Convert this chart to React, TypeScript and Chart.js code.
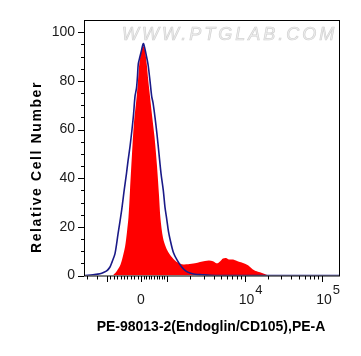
import React, { useEffect, useRef } from "react";
import { Chart, registerables } from "chart.js";

Chart.register(...registerables);

// Histogram of the stained sample (red, filled): channel position, relative count
const sampleX = [0, 28, 30, 33, 36, 38, 41, 43, 44.5, 46, 48, 50, 52.7, 54, 55.3, 57, 59.3, 61, 62.7, 64.3, 66, 68, 70.5, 73, 75, 76.5, 79, 82, 84.5, 88, 91, 94, 98, 104, 111, 116, 121, 125, 129, 133, 136, 139, 142, 145, 149, 153, 157, 161, 164, 168, 172, 176, 180, 185, 256];
const sampleY = [0, 0, 0.5, 2, 4, 6.5, 11.7, 18, 24, 35, 50, 63, 73.6, 80, 87, 91.5, 94.2, 92.5, 87, 80, 73.6, 66, 57, 45, 33, 23.3, 15.5, 11.5, 9.5, 7.5, 6.2, 5.3, 4.6, 4.6, 5.0, 5.5, 6.0, 6.2, 5.9, 5.0, 5.8, 7.0, 7.2, 6.6, 6.6, 6.0, 5.4, 4.8, 4.2, 2.8, 1.8, 1.3, 0.7, 0, 0];

// Histogram of the isotype control (blue outline)
const controlX = [0, 4, 9, 16, 20, 23, 26, 28, 31, 34, 37.7, 40.3, 42.5, 44, 46, 48, 49.5, 51, 52.5, 53.5, 54.3, 56, 57.5, 59.3, 61, 62.5, 63.5, 64.3, 66, 67.7, 69, 71, 73, 75, 77, 79.3, 81, 82.7, 84.5, 86, 89.3, 93.3, 97.7, 102, 106, 111, 118, 126, 136, 256];
const controlY = [0, 0.1, 0.3, 0.7, 1.3, 2, 3.5, 5.5, 9, 17, 27, 35.4, 42, 47, 53, 60, 66, 73.6, 77, 82, 87, 90, 92.5, 95.3, 93, 90, 88, 86, 80, 73.6, 71, 65, 58, 50, 42, 35, 28, 23.3, 18, 15, 9.6, 6.2, 3.5, 1.8, 1, 0.5, 0.3, 0.1, 0, 0];

// Axis ticks
const yMajorTicks = [0, 20, 40, 60, 80, 100];
const yMinorTicks = [5, 10, 15, 25, 30, 35, 45, 50, 55, 65, 70, 75, 85, 90, 95];
const xMajorTickValues = [-1000, 0, 1000, 10000, 100000];
const xMinorTickValues = [-1600, -1300, -900, -800, -700, -600, -500, -400, -300, -200, -100, 100, 200, 300, 400, 500, 600, 700, 800, 900, 2000, 3000, 4000, 5000, 6000, 7000, 8000, 9000, 20000, 30000, 40000, 50000, 60000, 70000, 80000, 90000];
const xTickLabelValues = [0, 10000, 100000];
const xTickLabelBase = ["0", "10", "10"];
const xTickLabelExp = ["", "4", "5"];

const xTitle = "PE-98013-2(Endoglin/CD105),PE-A";
const yTitle = "Relative Cell Number";
const watermark = "WWW.PTGLAB.COM";

// biexponential display transform: fluorescence value -> channel
function toChannel(v: number): number {
  if (v < 0) return 57 + (34 * v) / 1000;
  if (v < 1000) return 57 + (26 * v) / 1000;
  return 83 + 77.5 * Math.log10(v / 1000);
}

const decorPlugin = {
  id: "decor",
  beforeDatasetsDraw(chart: any) {
    const ctx = chart.ctx;
    const area = chart.chartArea;
    ctx.save();
    ctx.font = 'italic 18px "Liberation Sans"';
    (ctx as any).letterSpacing = "3px";
    ctx.textAlign = "left";
    ctx.textBaseline = "alphabetic";
    ctx.fillStyle = "#f0f0f0";
    ctx.strokeStyle = "#d2d2d2";
    ctx.lineWidth = 0.7;
    ctx.fillText(watermark, area.left + 38, area.top + 20);
    ctx.strokeText(watermark, area.left + 38, area.top + 20);
    ctx.restore();
  },
  afterDraw(chart: any) {
    const ctx = chart.ctx;
    const area = chart.chartArea;
    const xs = chart.scales.x;
    const ys = chart.scales.y;
    ctx.save();
    ctx.strokeStyle = "#000";
    ctx.lineWidth = 1;
    ctx.strokeRect(area.left + 0.5, area.top + 0.5, area.right - area.left - 1, area.bottom - area.top);
    const bottom = area.bottom + 0.5;
    ctx.beginPath();
    yMajorTicks.forEach((v) => {
      const y = Math.round(ys.getPixelForValue(v)) + 0.5;
      ctx.moveTo(area.left - 6, y);
      ctx.lineTo(area.left, y);
    });
    yMinorTicks.forEach((v) => {
      const y = Math.round(ys.getPixelForValue(v)) + 0.5;
      ctx.moveTo(area.left - 3, y);
      ctx.lineTo(area.left, y);
    });
    xMajorTickValues.forEach((v) => {
      const x = Math.round(xs.getPixelForValue(toChannel(v))) + 0.5;
      ctx.moveTo(x, bottom);
      ctx.lineTo(x, bottom + 6);
    });
    xMinorTickValues.forEach((v) => {
      const x = Math.round(xs.getPixelForValue(toChannel(v))) + 0.5;
      ctx.moveTo(x, bottom);
      ctx.lineTo(x, bottom + 3.5);
    });
    ctx.stroke();

    ctx.fillStyle = "#1a1a1a";
    ctx.font = '14px "Liberation Sans"';
    ctx.textAlign = "right";
    ctx.textBaseline = "middle";
    yMajorTicks.forEach((v) => {
      ctx.fillText(String(v), area.left - 9, ys.getPixelForValue(v));
    });

    ctx.textBaseline = "alphabetic";
    xTickLabelValues.forEach((v, i) => {
      const x = xs.getPixelForValue(toChannel(v));
      ctx.font = '14px "Liberation Sans"';
      ctx.textAlign = "center";
      ctx.fillText(xTickLabelBase[i], x + (xTickLabelExp[i] ? 2 : 0), bottom + 28);
      if (xTickLabelExp[i]) {
        const w = ctx.measureText(xTickLabelBase[i]).width;
        ctx.font = '13px "Liberation Sans"';
        ctx.textAlign = "left";
        ctx.fillText(xTickLabelExp[i], x + 2 + w / 2 + 1, bottom + 18);
      }
    });

    ctx.fillStyle = "#000";
    ctx.font = 'bold 14px "Liberation Sans"';
    ctx.textAlign = "center";
    ctx.textBaseline = "middle";
    ctx.fillText(xTitle, 203, 319.5);

    ctx.translate(29, 159);
    ctx.rotate(-Math.PI / 2);
    (ctx as any).letterSpacing = "1.6px";
    ctx.fillText(yTitle, 0, 0);
    ctx.restore();
  },
};

export default function App() {
  const ref = useRef<HTMLCanvasElement | null>(null);
  useEffect(() => {
    if (!ref.current) return;
    const chart = new Chart(ref.current, {
      type: "line",
      data: {
        datasets: [
          {
            label: "Control",
            data: controlX.map((x, i) => ({ x, y: controlY[i] })),
            borderColor: "#1a1a88",
            borderWidth: 1.6,
            pointRadius: 0,
            fill: false,
            tension: 0.3,
            order: 0,
          },
          {
            label: "Sample",
            data: sampleX.map((x, i) => ({ x, y: sampleY[i] })),
            borderColor: "rgba(0,0,0,0)",
            borderWidth: 0,
            backgroundColor: "#ff0000",
            pointRadius: 0,
            fill: "origin",
            tension: 0.3,
            order: 1,
          },
        ],
      },
      options: {
        animation: false,
        responsive: false,
        layout: { padding: { left: 76, right: 13, top: 12, bottom: 72.5 } },
        plugins: { legend: { display: false }, tooltip: { enabled: false } },
        scales: {
          x: { type: "linear", min: 0, max: 256, display: false },
          y: { type: "linear", min: 0, max: 105, display: false },
        },
      },
      plugins: [decorPlugin],
    });
    return () => chart.destroy();
  }, []);
  return <canvas ref={ref} width={345} height={340} style={{ width: 345, height: 340, display: "block" }} />;
}
